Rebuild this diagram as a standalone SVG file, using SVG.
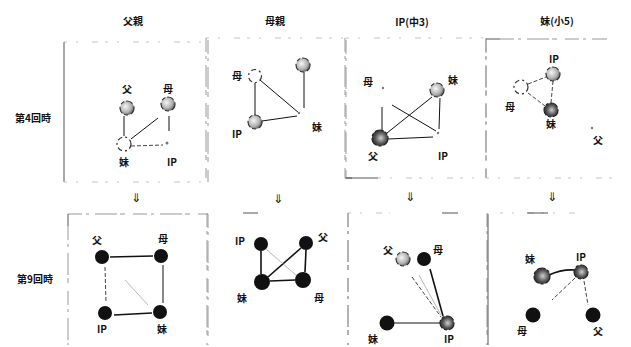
<svg xmlns="http://www.w3.org/2000/svg" width="631" height="347" viewBox="0 0 631 347">
  <defs>
    <radialGradient id="mottle" cx="0.4" cy="0.4" r="0.7">
      <stop offset="0" stop-color="#f6f6f6"/>
      <stop offset="0.6" stop-color="#b0b0b0"/>
      <stop offset="1" stop-color="#444"/>
    </radialGradient>
    <radialGradient id="mottleDark" cx="0.55" cy="0.5" r="0.7">
      <stop offset="0" stop-color="#d0d0d0"/>
      <stop offset="0.5" stop-color="#555"/>
      <stop offset="1" stop-color="#111"/>
    </radialGradient>
  </defs>
  <style>
    text { font-family: "Noto Sans CJK JP", "Noto Sans", sans-serif; font-weight: bold; fill: #111; text-anchor: middle; }
    .head { font-size: 10px; }
    .lbl { font-size: 10px; }
    .arr { font-family: "DejaVu Sans", "Noto Sans CJK JP", sans-serif; font-size: 12px; font-weight: normal; fill: #111; }
    .frame line { stroke: #999; stroke-width: 1; }
    .frame .solid { stroke: #555; }
    .frame .broken { stroke-dasharray: 14 4 3 6 22 3 5 8; }
    .frame .faint { stroke: #c4c4c4; stroke-dasharray: 3 9 2 14 6 7; }
    .node .full { fill: #111; }
    .node .shade { fill: url(#mottle); stroke: #333; stroke-width: 1.2; stroke-dasharray: 7 3 4 2; }
    .node .shadeDark { fill: url(#mottleDark); stroke: #222; stroke-width: 1.2; stroke-dasharray: 9 2 3 2; }
    .node .open { fill: #fff; stroke: #333; stroke-width: 1.2; stroke-dasharray: 5 3 2 3; }
    .node .dot { fill: #777; }
    .edges line, .edges path { stroke: #111; stroke-width: 1; fill: none; }
    .edges .thick { stroke-width: 1.6; }
    .edges .thin { stroke: #999; stroke-width: 0.7; }
    .edges .dash { stroke-dasharray: 4 2; stroke: #444; }
  </style>

  <!-- column headers -->
  <g id="headers">
    <text class="head" x="133" y="25">父親</text>
    <text class="head" x="275" y="25">母親</text>
    <text class="head" x="412" y="26">IP(中3)</text>
    <text class="head" x="557" y="25">妹(小5)</text>
  </g>

  <!-- row headers -->
  <g id="rows">
    <text class="lbl" x="33" y="122">第4回時</text>
    <text class="lbl" x="35" y="283">第9回時</text>
  </g>

  <!-- panel frames (printed borders are broken and faded) -->
  <g class="frame" id="frames">
    <!-- upper row -->
    <line class="faint" x1="64" y1="42" x2="208" y2="42"/>
    <line class="solid" x1="64" y1="42" x2="64" y2="182"/>
    <line class="broken" x1="208" y1="40" x2="208" y2="182"/>
    <line class="faint" x1="64" y1="182" x2="208" y2="182"/>

    <line class="faint" x1="206" y1="38" x2="345" y2="38"/>
    <line class="broken" x1="206" y1="38" x2="206" y2="178"/>
    <line class="broken" x1="345" y1="38" x2="345" y2="178"/>
    <line class="solid" x1="345" y1="178" x2="352" y2="178"/>

    <line class="faint" x1="346" y1="38" x2="486" y2="38"/>
    <line class="broken" x1="346" y1="40" x2="346" y2="178"/>
    <line class="solid" x1="346" y1="178" x2="378" y2="178"/>
    <line class="faint" x1="378" y1="178" x2="486" y2="178"/>
    <line class="broken" x1="486" y1="38" x2="486" y2="178"/>

    <line class="solid" x1="486" y1="39" x2="500" y2="39"/>
    <line class="broken" x1="500" y1="39" x2="607" y2="39"/>
    <line class="broken" x1="486" y1="39" x2="486" y2="178"/>
    <line class="faint" x1="486" y1="178" x2="612" y2="178"/>

    <!-- lower row -->
    <line class="broken" x1="68" y1="214" x2="208" y2="214"/>
    <line class="solid" x1="68" y1="214" x2="68" y2="226"/>
    <line class="broken" x1="68" y1="226" x2="68" y2="345"/>
    <line class="broken" x1="208" y1="214" x2="208" y2="345"/>

    <line class="solid" x1="243" y1="213" x2="258" y2="213"/>
    <line class="broken" x1="207" y1="213" x2="207" y2="345"/>
    <line class="broken" x1="348" y1="213" x2="348" y2="345"/>

    <line class="faint" x1="348" y1="213" x2="390" y2="213"/>
    <line class="solid" x1="442" y1="213" x2="458" y2="213"/>
    <line class="broken" x1="348" y1="213" x2="348" y2="345"/>
    <line class="broken" x1="487" y1="213" x2="487" y2="345"/>

    <line class="faint" x1="500" y1="213" x2="575" y2="213"/>
    <line class="solid" x1="527" y1="213" x2="548" y2="213"/>
    <line class="solid" x1="488" y1="214" x2="488" y2="345"/>
  </g>

  <!-- downward arrows between rows -->
  <g id="arrows">
    <text class="arr" x="136" y="202">⇓</text>
    <text class="arr" x="278" y="203">⇓</text>
    <text class="arr" x="410" y="201">⇓</text>
    <text class="arr" x="552" y="201">⇓</text>
  </g>

  <!-- connectors -->
  <g class="edges" id="connectors">
    <!-- 父親, 第4回 -->
    <line x1="124" y1="116" x2="124" y2="136"/>
    <line x1="158" y1="118" x2="131" y2="139"/>
    <line x1="169" y1="116" x2="169" y2="131"/>
    <line class="dash" x1="131" y1="146" x2="163" y2="145"/>
    <!-- 母親, 第4回 -->
    <line x1="255" y1="83" x2="255" y2="115"/>
    <line x1="260" y1="80" x2="299" y2="113"/>
    <line x1="304" y1="72" x2="304" y2="108"/>
    <line x1="262" y1="121" x2="297" y2="116"/>
    <!-- IP(中3), 第4回 -->
    <line x1="382" y1="107" x2="382" y2="131"/>
    <line x1="392" y1="105" x2="436" y2="131"/>
    <line x1="387" y1="133" x2="432" y2="97"/>
    <line x1="440" y1="98" x2="439" y2="129"/>
    <line x1="388" y1="139" x2="433" y2="137"/>
    <!-- 妹(小5), 第4回 -->
    <line class="dash" x1="528" y1="84" x2="546" y2="77"/>
    <line class="dash" x1="553" y1="81" x2="551" y2="103"/>
    <line class="dash" x1="528" y1="93" x2="545" y2="106"/>
    <!-- 父親, 第9回 -->
    <line class="thick" x1="110" y1="257" x2="153" y2="256"/>
    <line x1="163" y1="265" x2="163" y2="303"/>
    <line class="dash" x1="105" y1="267" x2="106" y2="303"/>
    <line class="thick" x1="114" y1="315" x2="152" y2="313"/>
    <line class="thin" x1="125" y1="280" x2="148" y2="305"/>
    <!-- 母親, 第9回 -->
    <line class="thick" x1="261" y1="251" x2="261" y2="274"/>
    <line class="thick" x1="306" y1="250" x2="305" y2="272"/>
    <line class="thick" x1="270" y1="281" x2="295" y2="280"/>
    <line class="thick" x1="301" y1="248" x2="268" y2="277"/>
    <line class="thin" x1="266" y1="249" x2="297" y2="276"/>
    <!-- IP(中3), 第9回 -->
    <line x1="394" y1="323" x2="440" y2="323"/>
    <line class="thick" x1="430" y1="269" x2="443" y2="316"/>
    <line class="dash" x1="412" y1="277" x2="441" y2="317"/>
    <line class="thin" x1="419" y1="275" x2="441" y2="315"/>
    <!-- 妹(小5), 第9回 -->
    <path class="thick" d="M549 275 Q562 269 575 270"/>
    <line class="dash" x1="575" y1="278" x2="552" y2="300"/>
    <line class="dash" x1="584" y1="281" x2="588" y2="305"/>
  </g>

  <!-- 父親, 第4回 -->
  <g class="node" id="a4-father"><circle class="shade" cx="127" cy="108" r="7"/><text class="lbl" x="127" y="93">父</text></g>
  <g class="node" id="a4-mother"><circle class="shade" cx="168" cy="104" r="7"/><text class="lbl" x="168" y="93">母</text></g>
  <g class="node" id="a4-sister"><circle class="open" cx="124" cy="144" r="7"/><text class="lbl" x="124" y="166">妹</text></g>
  <g class="node" id="a4-ip"><circle class="dot" cx="167" cy="143" r="1.5"/><text class="lbl" x="172" y="166">IP</text></g>

  <!-- 母親, 第4回 -->
  <g class="node" id="b4-mother"><circle class="open" cx="255" cy="76" r="6.5"/><text class="lbl" x="237" y="80">母</text></g>
  <g class="node" id="b4-other"><circle class="shade" cx="303" cy="65" r="7"/></g>
  <g class="node" id="b4-sister"><circle class="dot" cx="299" cy="113" r="1.2"/><text class="lbl" x="317" y="131">妹</text></g>
  <g class="node" id="b4-ip"><circle class="shade" cx="255" cy="122" r="7"/><text class="lbl" x="237" y="138">IP</text></g>

  <!-- IP(中3), 第4回 -->
  <g class="node" id="c4-mother"><circle class="dot" cx="383" cy="88" r="1.2"/><text class="lbl" x="368" y="86">母</text></g>
  <g class="node" id="c4-sister"><circle class="shade" cx="437" cy="90" r="7"/><text class="lbl" x="453" y="84">妹</text></g>
  <g class="node" id="c4-father"><circle class="shadeDark" cx="380" cy="138" r="8"/><text class="lbl" x="373" y="160">父</text></g>
  <g class="node" id="c4-ip"><circle class="dot" cx="438" cy="133" r="1.2"/><text class="lbl" x="443" y="160">IP</text></g>

  <!-- 妹(小5), 第4回 -->
  <g class="node" id="d4-ip"><circle class="shade" cx="553" cy="74" r="7"/><text class="lbl" x="554" y="63">IP</text></g>
  <g class="node" id="d4-mother"><circle class="open" cx="521" cy="87" r="7"/><text class="lbl" x="510" y="111">母</text></g>
  <g class="node" id="d4-sister"><circle class="shadeDark" cx="551" cy="110" r="7"/><text class="lbl" x="551" y="128">妹</text></g>
  <g class="node" id="d4-father"><circle class="dot" cx="592" cy="128" r="1.2"/><text class="lbl" x="598" y="144">父</text></g>

  <!-- 父親, 第9回 -->
  <g class="node" id="a9-father"><circle class="full" cx="102" cy="257" r="7"/><text class="lbl" x="97" y="244">父</text></g>
  <g class="node" id="a9-mother"><circle class="full" cx="161" cy="256" r="7"/><text class="lbl" x="163" y="243">母</text></g>
  <g class="node" id="a9-ip"><circle class="full" cx="105" cy="313" r="7"/><text class="lbl" x="102" y="333">IP</text></g>
  <g class="node" id="a9-sister"><circle class="full" cx="160" cy="312" r="7"/><text class="lbl" x="162" y="333">妹</text></g>

  <!-- 母親, 第9回 -->
  <g class="node" id="b9-ip"><circle class="full" cx="261" cy="244" r="7"/><text class="lbl" x="240" y="245">IP</text></g>
  <g class="node" id="b9-father"><circle class="full" cx="306" cy="243" r="7"/><text class="lbl" x="323" y="241">父</text></g>
  <g class="node" id="b9-sister"><circle class="full" cx="262" cy="282" r="8"/><text class="lbl" x="242" y="302">妹</text></g>
  <g class="node" id="b9-mother"><circle class="full" cx="303" cy="280" r="8"/><text class="lbl" x="319" y="302">母</text></g>

  <!-- IP(中3), 第9回 -->
  <g class="node" id="c9-father"><circle class="shade" cx="403" cy="259" r="7"/><text class="lbl" x="388" y="254">父</text></g>
  <g class="node" id="c9-mother"><circle class="full" cx="424" cy="259" r="7"/><text class="lbl" x="438" y="254">母</text></g>
  <g class="node" id="c9-sister"><circle class="full" cx="387" cy="323" r="7.5"/><text class="lbl" x="373" y="343">妹</text></g>
  <g class="node" id="c9-ip"><circle class="shadeDark" cx="447" cy="323" r="7"/><text class="lbl" x="449" y="343">IP</text></g>

  <!-- 妹(小5), 第9回 -->
  <g class="node" id="d9-sister"><circle class="shadeDark" cx="542" cy="276" r="8"/><text class="lbl" x="530" y="263">妹</text></g>
  <g class="node" id="d9-ip"><circle class="shadeDark" cx="581" cy="272" r="7"/><text class="lbl" x="581" y="261">IP</text></g>
  <g class="node" id="d9-mother"><circle class="full" cx="533" cy="315" r="7.5"/><text class="lbl" x="522" y="335">母</text></g>
  <g class="node" id="d9-father"><circle class="full" cx="593" cy="315" r="7.5"/><text class="lbl" x="598" y="335">父</text></g>
</svg>
